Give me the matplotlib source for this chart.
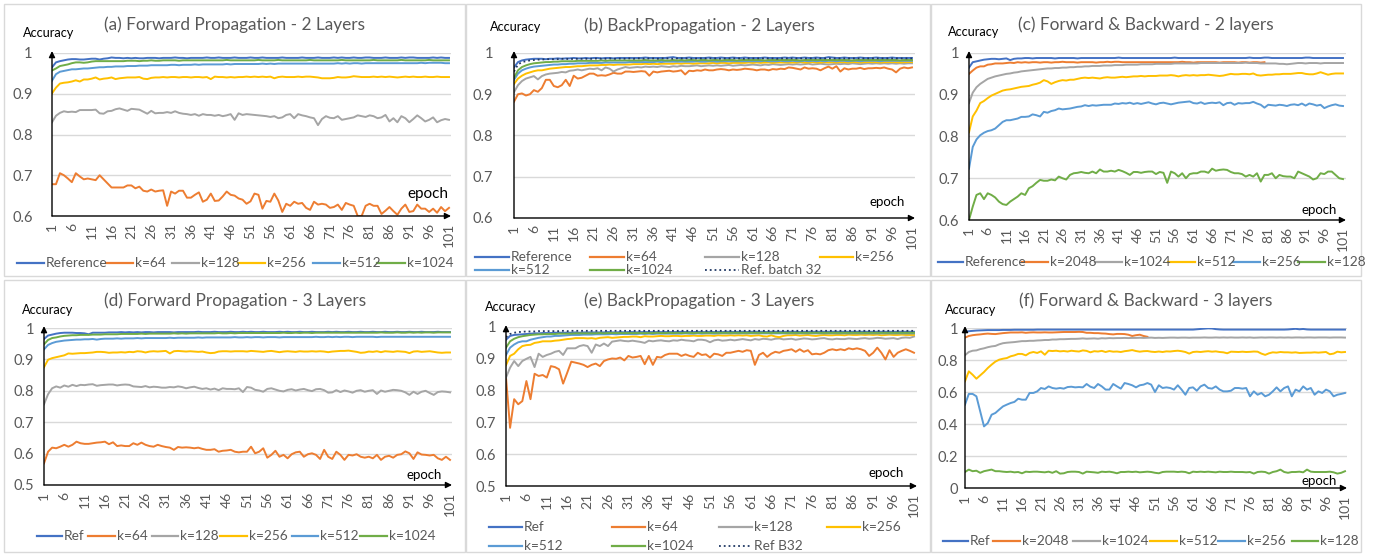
import matplotlib
matplotlib.use("Agg")
import matplotlib.pyplot as plt
import numpy as np
from matplotlib.lines import Line2D
from matplotlib.patches import Rectangle

plt.rcParams["font.family"] = ["Lato", "DejaVu Sans"]

# ---------------------------------------------------------------- data
XTICKS = list(range(1, 102, 5))

# (a) Forward Propagation - 2 Layers
A_REF = [0.965,0.977,0.980,0.982,0.984,0.985,0.985,0.984,0.984,0.985,
         0.986,0.986,0.984,0.986,0.987,0.989,0.988,0.988,0.987,0.988,
         0.987,0.988,0.987,0.987,0.988,0.988,0.988,0.987,0.988,0.988,
         0.988,0.989,0.988,0.988,0.987,0.988,0.988,0.988,0.988,0.989,
         0.988,0.988,0.989,0.988,0.988,0.988,0.989,0.988,0.988,0.988,
         0.989,0.988,0.988,0.989,0.988,0.988,0.988,0.988,0.989,0.988,
         0.988,0.988,0.988,0.989,0.988,0.988,0.988,0.989,0.988,0.988,
         0.988,0.989,0.988,0.989,0.988,0.988,0.989,0.988,0.988,0.989,
         0.989,0.988,0.988,0.988,0.989,0.988,0.988,0.988,0.989,0.988,
         0.989,0.989,0.988,0.988,0.988,0.988,0.989,0.988,0.989,0.988,
         0.988]
A_K64 = [0.678,0.678,0.705,0.700,0.692,0.683,0.705,0.697,0.690,0.692,
         0.690,0.688,0.700,0.690,0.680,0.670,0.670,0.670,0.670,0.675,
         0.675,0.668,0.672,0.662,0.660,0.665,0.660,0.662,0.663,0.625,
         0.660,0.655,0.662,0.662,0.645,0.645,0.652,0.658,0.635,0.640,
         0.655,0.637,0.638,0.648,0.660,0.652,0.650,0.643,0.640,0.630,
         0.636,0.655,0.652,0.618,0.637,0.635,0.655,0.638,0.610,0.630,
         0.625,0.635,0.630,0.632,0.620,0.615,0.635,0.628,0.630,0.628,
         0.620,0.622,0.628,0.615,0.632,0.628,0.625,0.600,0.600,0.625,
         0.630,0.625,0.625,0.605,0.613,0.622,0.612,0.603,0.618,0.628,
         0.610,0.612,0.628,0.618,0.618,0.610,0.618,0.608,0.622,0.612,
         0.620]
A_K128 = [0.830,0.846,0.853,0.857,0.855,0.856,0.855,0.860,0.860,0.860,
          0.860,0.861,0.852,0.851,0.857,0.858,0.862,0.864,0.861,0.858,
          0.863,0.862,0.861,0.856,0.851,0.858,0.852,0.853,0.853,0.855,
          0.853,0.857,0.853,0.851,0.850,0.848,0.850,0.846,0.850,0.848,
          0.848,0.846,0.848,0.845,0.847,0.850,0.836,0.852,0.848,0.850,
          0.849,0.848,0.847,0.846,0.845,0.843,0.845,0.840,0.842,0.848,
          0.850,0.840,0.850,0.847,0.845,0.842,0.840,0.823,0.838,0.845,
          0.841,0.840,0.845,0.836,0.838,0.840,0.842,0.847,0.845,0.843,
          0.847,0.845,0.840,0.842,0.848,0.832,0.840,0.830,0.845,0.840,
          0.830,0.838,0.847,0.840,0.832,0.836,0.842,0.830,0.835,0.838,
          0.836]
A_K256 = [0.901,0.915,0.925,0.927,0.928,0.930,0.933,0.930,0.935,0.935,
          0.937,0.940,0.935,0.937,0.938,0.940,0.936,0.938,0.939,0.940,
          0.940,0.940,0.941,0.937,0.936,0.939,0.940,0.940,0.941,0.940,
          0.941,0.941,0.940,0.941,0.941,0.940,0.941,0.941,0.940,0.941,
          0.936,0.942,0.941,0.941,0.940,0.941,0.940,0.941,0.941,0.942,
          0.941,0.942,0.941,0.942,0.941,0.942,0.938,0.941,0.942,0.941,
          0.941,0.941,0.942,0.941,0.942,0.942,0.941,0.940,0.938,0.938,
          0.938,0.939,0.941,0.940,0.940,0.941,0.943,0.942,0.941,0.941,
          0.941,0.942,0.941,0.942,0.941,0.942,0.941,0.940,0.941,0.942,
          0.941,0.942,0.941,0.941,0.942,0.941,0.941,0.942,0.941,0.941,
          0.941]
A_K512 = [0.932,0.948,0.954,0.956,0.958,0.960,0.960,0.961,0.962,0.962,
          0.963,0.964,0.965,0.965,0.966,0.966,0.967,0.967,0.967,0.968,
          0.968,0.968,0.969,0.969,0.969,0.970,0.970,0.970,0.970,0.970,
          0.971,0.971,0.970,0.971,0.971,0.971,0.972,0.971,0.972,0.972,
          0.972,0.972,0.972,0.972,0.973,0.972,0.973,0.973,0.973,0.973,
          0.973,0.973,0.973,0.974,0.973,0.974,0.973,0.974,0.974,0.974,
          0.974,0.974,0.974,0.974,0.974,0.974,0.974,0.974,0.974,0.974,
          0.974,0.974,0.975,0.974,0.975,0.974,0.975,0.975,0.974,0.975,
          0.975,0.975,0.975,0.975,0.975,0.975,0.975,0.975,0.975,0.975,
          0.975,0.975,0.975,0.976,0.975,0.976,0.976,0.976,0.976,0.975,
          0.975]
A_K1024 = [0.957,0.962,0.968,0.970,0.972,0.975,0.977,0.977,0.976,0.977,
           0.979,0.980,0.980,0.980,0.980,0.980,0.980,0.980,0.980,0.981,
           0.981,0.981,0.980,0.981,0.981,0.982,0.981,0.981,0.982,0.982,
           0.982,0.982,0.981,0.982,0.982,0.982,0.982,0.982,0.982,0.982,
           0.982,0.982,0.982,0.982,0.983,0.982,0.982,0.982,0.982,0.982,
           0.982,0.982,0.983,0.982,0.982,0.982,0.982,0.983,0.982,0.982,
           0.982,0.982,0.982,0.982,0.982,0.983,0.982,0.982,0.982,0.982,
           0.982,0.982,0.982,0.983,0.982,0.982,0.982,0.982,0.982,0.982,
           0.982,0.983,0.982,0.982,0.982,0.982,0.982,0.982,0.983,0.982,
           0.982,0.982,0.982,0.982,0.982,0.983,0.982,0.982,0.982,0.982,
           0.982]

# (b) BackPropagation - 2 Layers
B_REF = [0.965,0.978,0.982,0.984,0.985,0.986,0.986,0.986,0.985,0.986,
         0.986,0.987,0.986,0.987,0.987,0.988,0.987,0.987,0.988,0.987,
         0.988,0.988,0.987,0.988,0.988,0.987,0.988,0.988,0.988,0.988,
         0.988,0.988,0.988,0.989,0.988,0.988,0.988,0.988,0.988,0.989,
         0.990,0.988,0.988,0.988,0.989,0.988,0.988,0.988,0.988,0.989,
         0.988,0.988,0.989,0.988,0.988,0.989,0.988,0.988,0.989,0.988,
         0.988,0.988,0.988,0.989,0.988,0.988,0.988,0.988,0.989,0.988,
         0.989,0.988,0.988,0.989,0.988,0.988,0.989,0.988,0.988,0.990,
         0.989,0.988,0.988,0.989,0.988,0.988,0.988,0.989,0.988,0.988,
         0.988,0.989,0.988,0.988,0.988,0.989,0.988,0.988,0.988,0.988,
         0.988]
B_K64 = [0.882,0.900,0.902,0.897,0.900,0.910,0.906,0.915,0.935,0.935,
         0.920,0.917,0.922,0.935,0.920,0.945,0.938,0.940,0.945,0.950,
         0.950,0.945,0.946,0.945,0.948,0.952,0.950,0.950,0.955,0.955,
         0.954,0.955,0.956,0.955,0.945,0.955,0.953,0.955,0.956,0.957,
         0.955,0.956,0.958,0.948,0.957,0.956,0.958,0.957,0.960,0.958,
         0.958,0.960,0.961,0.960,0.958,0.960,0.959,0.960,0.962,0.961,
         0.960,0.958,0.960,0.960,0.958,0.961,0.960,0.962,0.961,0.965,
         0.964,0.962,0.960,0.965,0.962,0.963,0.962,0.958,0.963,0.967,
         0.962,0.968,0.955,0.963,0.960,0.962,0.962,0.964,0.961,0.963,
         0.963,0.964,0.963,0.965,0.962,0.960,0.953,0.962,0.965,0.963,
         0.965]
B_K128 = [0.905,0.922,0.932,0.938,0.941,0.944,0.936,0.944,0.948,0.950,
          0.951,0.952,0.954,0.953,0.957,0.958,0.960,0.958,0.960,0.962,
          0.961,0.963,0.958,0.965,0.962,0.955,0.960,0.963,0.966,0.964,
          0.965,0.966,0.965,0.967,0.966,0.967,0.966,0.968,0.967,0.966,
          0.968,0.967,0.969,0.968,0.968,0.969,0.970,0.968,0.969,0.970,
          0.969,0.970,0.969,0.970,0.971,0.969,0.970,0.971,0.970,0.971,
          0.972,0.971,0.970,0.972,0.971,0.973,0.972,0.971,0.972,0.973,
          0.972,0.973,0.972,0.973,0.974,0.972,0.973,0.974,0.973,0.972,
          0.973,0.974,0.973,0.974,0.973,0.975,0.974,0.973,0.974,0.975,
          0.974,0.975,0.974,0.975,0.974,0.975,0.974,0.975,0.974,0.975,
          0.975]
B_K256 = [0.925,0.938,0.945,0.950,0.953,0.956,0.958,0.958,0.960,0.962,
          0.963,0.964,0.965,0.966,0.966,0.967,0.968,0.968,0.969,0.970,
          0.970,0.970,0.971,0.971,0.972,0.971,0.972,0.972,0.972,0.972,
          0.973,0.973,0.973,0.974,0.973,0.974,0.973,0.974,0.974,0.974,
          0.974,0.975,0.974,0.975,0.975,0.974,0.975,0.975,0.975,0.975,
          0.976,0.975,0.976,0.976,0.975,0.976,0.976,0.976,0.976,0.977,
          0.976,0.977,0.976,0.977,0.977,0.976,0.977,0.977,0.977,0.977,
          0.977,0.977,0.978,0.977,0.977,0.978,0.977,0.977,0.978,0.977,
          0.978,0.977,0.978,0.978,0.977,0.978,0.978,0.977,0.978,0.978,
          0.978,0.978,0.977,0.978,0.978,0.978,0.978,0.977,0.978,0.978,
          0.978]
B_K512 = [0.935,0.950,0.958,0.962,0.965,0.967,0.968,0.969,0.970,0.971,
          0.972,0.972,0.973,0.973,0.974,0.974,0.975,0.975,0.975,0.976,
          0.976,0.976,0.976,0.977,0.977,0.977,0.977,0.977,0.977,0.978,
          0.978,0.978,0.978,0.978,0.978,0.978,0.979,0.978,0.979,0.979,
          0.979,0.979,0.979,0.979,0.979,0.979,0.980,0.979,0.979,0.980,
          0.980,0.979,0.980,0.980,0.980,0.980,0.980,0.980,0.980,0.980,
          0.980,0.980,0.980,0.981,0.980,0.980,0.980,0.981,0.980,0.980,
          0.981,0.980,0.980,0.981,0.980,0.981,0.980,0.981,0.980,0.981,
          0.981,0.980,0.981,0.981,0.980,0.981,0.981,0.980,0.981,0.981,
          0.981,0.981,0.980,0.981,0.981,0.981,0.981,0.981,0.981,0.981,
          0.981]
B_K1024 = [0.940,0.958,0.966,0.970,0.973,0.975,0.976,0.977,0.978,0.978,
           0.979,0.979,0.980,0.980,0.980,0.980,0.981,0.981,0.981,0.981,
           0.981,0.981,0.982,0.981,0.982,0.982,0.982,0.982,0.982,0.982,
           0.982,0.982,0.982,0.983,0.982,0.982,0.982,0.983,0.982,0.982,
           0.983,0.982,0.983,0.982,0.983,0.983,0.982,0.983,0.983,0.982,
           0.983,0.983,0.982,0.983,0.983,0.983,0.982,0.983,0.983,0.983,
           0.983,0.983,0.983,0.982,0.983,0.983,0.983,0.983,0.983,0.983,
           0.983,0.983,0.982,0.983,0.983,0.983,0.983,0.983,0.983,0.983,
           0.983,0.983,0.983,0.983,0.983,0.982,0.983,0.983,0.983,0.983,
           0.983,0.983,0.983,0.983,0.983,0.983,0.983,0.982,0.983,0.983,
           0.983]
B_B32 = [0.955,0.972,0.978,0.980,0.982,0.983,0.984,0.984,0.985,0.985,
         0.985,0.985,0.986,0.986,0.985,0.986,0.986,0.986,0.986,0.986,
         0.986,0.987,0.986,0.986,0.987,0.986,0.986,0.987,0.986,0.987,
         0.986,0.987,0.987,0.986,0.987,0.987,0.986,0.987,0.987,0.987,
         0.986,0.987,0.987,0.987,0.987,0.986,0.987,0.987,0.987,0.987,
         0.987,0.987,0.986,0.987,0.987,0.987,0.987,0.987,0.986,0.987,
         0.987,0.987,0.987,0.987,0.987,0.987,0.986,0.987,0.987,0.987,
         0.987,0.987,0.987,0.987,0.987,0.987,0.987,0.987,0.987,0.987,
         0.987,0.987,0.987,0.987,0.987,0.987,0.987,0.987,0.987,0.987,
         0.987,0.987,0.987,0.987,0.987,0.987,0.987,0.987,0.987,0.987,
         0.987]

# (c) Forward & Backward - 2 layers
C_REF = [0.965,0.978,0.980,0.982,0.984,0.985,0.986,0.986,0.985,0.986,
         0.987,0.983,0.986,0.987,0.987,0.988,0.988,0.987,0.988,0.988,
         0.988,0.988,0.988,0.987,0.988,0.988,0.988,0.988,0.988,0.987,
         0.988,0.988,0.988,0.988,0.988,0.988,0.988,0.988,0.988,0.988,
         0.989,0.988,0.988,0.988,0.988,0.988,0.988,0.988,0.988,0.988,
         0.988,0.988,0.988,0.988,0.988,0.989,0.988,0.988,0.988,0.988,
         0.988,0.988,0.988,0.988,0.988,0.988,0.988,0.988,0.988,0.988,
         0.988,0.988,0.988,0.988,0.988,0.989,0.988,0.988,0.988,0.989,
         0.989,0.988,0.988,0.988,0.988,0.988,0.988,0.988,0.988,0.988,
         0.989,0.989,0.988,0.988,0.988,0.988,0.988,0.988,0.988,0.988,
         0.988]
C_K2048 = [0.950,0.958,0.965,0.968,0.968,0.972,0.973,0.975,0.975,0.975,
           0.976,0.977,0.976,0.978,0.977,0.978,0.977,0.978,0.978,0.977,
           0.978,0.978,0.977,0.978,0.978,0.979,0.978,0.978,0.978,0.977,
           0.978,0.978,0.978,0.978,0.977,0.978,0.978,0.979,0.978,0.979,
           0.979,0.978,0.978,0.978,0.978,0.978,0.978,0.978,0.978,0.978,
           0.978,0.978,0.978,0.978,0.978,0.978,0.978,0.979,0.978,0.978,
           0.977,0.978,0.978,0.978,0.978,0.978,0.978,0.977,0.978,0.978,
           0.978,0.978,0.977,0.978,0.978,0.977,0.978,0.978,0.977,0.978]
C_K1024 = [0.880,0.905,0.918,0.926,0.932,0.938,0.941,0.944,0.946,0.948,
           0.950,0.951,0.953,0.954,0.956,0.957,0.958,0.959,0.960,0.961,
           0.962,0.963,0.963,0.964,0.964,0.965,0.965,0.966,0.966,0.967,
           0.967,0.968,0.968,0.969,0.969,0.969,0.970,0.970,0.970,0.971,
           0.971,0.971,0.972,0.972,0.972,0.972,0.973,0.973,0.973,0.973,
           0.974,0.974,0.974,0.974,0.974,0.975,0.975,0.975,0.975,0.975,
           0.975,0.975,0.976,0.976,0.976,0.976,0.976,0.976,0.976,0.976,
           0.976,0.976,0.976,0.976,0.977,0.976,0.976,0.976,0.975,0.975,
           0.975,0.975,0.975,0.974,0.974,0.973,0.974,0.975,0.976,0.976,
           0.975,0.976,0.976,0.976,0.975,0.976,0.976,0.976,0.976,0.976,
           0.976]
C_K512 = [0.810,0.848,0.862,0.880,0.885,0.892,0.898,0.902,0.906,0.910,
          0.912,0.913,0.915,0.917,0.919,0.920,0.921,0.924,0.926,0.929,
          0.935,0.932,0.926,0.930,0.933,0.935,0.934,0.936,0.936,0.938,
          0.940,0.941,0.940,0.941,0.940,0.939,0.941,0.942,0.941,0.941,
          0.942,0.943,0.942,0.943,0.944,0.944,0.945,0.944,0.945,0.945,
          0.945,0.946,0.946,0.946,0.947,0.946,0.944,0.946,0.947,0.946,
          0.947,0.946,0.947,0.947,0.948,0.947,0.946,0.945,0.946,0.948,
          0.950,0.949,0.949,0.950,0.950,0.949,0.951,0.947,0.946,0.947,
          0.948,0.948,0.949,0.949,0.950,0.950,0.950,0.951,0.952,0.952,
          0.950,0.949,0.949,0.951,0.954,0.951,0.948,0.950,0.951,0.951,
          0.951]
C_K256 = [0.723,0.775,0.793,0.803,0.809,0.813,0.815,0.819,0.827,0.835,
          0.839,0.839,0.841,0.843,0.847,0.847,0.848,0.853,0.851,0.848,
          0.859,0.857,0.861,0.863,0.867,0.865,0.866,0.867,0.869,0.871,
          0.872,0.875,0.873,0.875,0.874,0.875,0.876,0.876,0.876,0.879,
          0.878,0.880,0.879,0.881,0.878,0.880,0.878,0.880,0.882,0.879,
          0.877,0.880,0.881,0.879,0.877,0.879,0.881,0.882,0.883,0.884,
          0.880,0.879,0.882,0.878,0.880,0.881,0.880,0.882,0.875,0.880,
          0.881,0.876,0.880,0.879,0.880,0.880,0.883,0.879,0.876,0.869,
          0.876,0.875,0.874,0.876,0.875,0.873,0.876,0.877,0.875,0.879,
          0.874,0.879,0.877,0.874,0.876,0.868,0.872,0.875,0.877,0.874,
          0.873]
C_K128 = [0.600,0.632,0.660,0.664,0.650,0.664,0.660,0.654,0.644,0.638,
          0.636,0.644,0.650,0.656,0.664,0.660,0.676,0.681,0.689,0.696,
          0.694,0.694,0.697,0.695,0.704,0.700,0.697,0.708,0.712,0.713,
          0.715,0.713,0.712,0.716,0.712,0.721,0.716,0.716,0.718,0.716,
          0.720,0.717,0.713,0.708,0.715,0.715,0.713,0.715,0.716,0.716,
          0.710,0.715,0.713,0.689,0.716,0.712,0.704,0.712,0.700,0.710,
          0.712,0.712,0.716,0.716,0.713,0.723,0.718,0.720,0.721,0.720,
          0.715,0.712,0.712,0.710,0.704,0.708,0.704,0.712,0.692,0.708,
          0.708,0.712,0.700,0.708,0.705,0.704,0.704,0.700,0.716,0.712,
          0.708,0.704,0.697,0.700,0.712,0.710,0.716,0.716,0.708,0.700,
          0.698]

# (d) Forward Propagation - 3 Layers
D_REF = [0.965,0.976,0.979,0.982,0.984,0.985,0.985,0.985,0.984,0.984,
         0.983,0.980,0.985,0.985,0.985,0.985,0.986,0.986,0.986,0.987,
         0.986,0.987,0.986,0.987,0.986,0.987,0.987,0.986,0.987,0.987,
         0.987,0.987,0.986,0.987,0.987,0.987,0.987,0.987,0.988,0.987,
         0.987,0.987,0.988,0.987,0.987,0.987,0.988,0.987,0.987,0.988,
         0.987,0.988,0.987,0.987,0.988,0.987,0.987,0.987,0.988,0.987,
         0.988,0.987,0.987,0.988,0.987,0.987,0.988,0.987,0.987,0.987,
         0.988,0.987,0.988,0.987,0.987,0.988,0.987,0.987,0.988,0.987,
         0.987,0.988,0.987,0.987,0.988,0.987,0.987,0.988,0.987,0.987,
         0.988,0.987,0.987,0.988,0.987,0.987,0.987,0.988,0.987,0.987,
         0.987]
D_K64 = [0.569,0.606,0.619,0.617,0.622,0.628,0.622,0.628,0.638,0.633,
         0.631,0.631,0.633,0.635,0.636,0.638,0.630,0.636,0.624,0.626,
         0.624,0.624,0.633,0.628,0.635,0.628,0.624,0.622,0.628,0.624,
         0.621,0.619,0.612,0.621,0.619,0.620,0.619,0.617,0.619,0.615,
         0.612,0.612,0.614,0.606,0.609,0.610,0.612,0.606,0.604,0.606,
         0.606,0.622,0.601,0.606,0.617,0.587,0.596,0.609,0.590,0.596,
         0.585,0.598,0.604,0.606,0.590,0.598,0.601,0.596,0.583,0.612,
         0.590,0.583,0.606,0.596,0.580,0.596,0.594,0.598,0.590,0.587,
         0.590,0.585,0.596,0.580,0.590,0.593,0.587,0.596,0.598,0.607,
         0.601,0.583,0.604,0.597,0.596,0.594,0.596,0.585,0.580,0.590,
         0.580]
D_K128 = [0.757,0.789,0.808,0.814,0.810,0.817,0.813,0.819,0.815,0.819,
          0.818,0.820,0.821,0.816,0.818,0.819,0.820,0.820,0.817,0.819,
          0.820,0.819,0.814,0.813,0.812,0.815,0.811,0.813,0.812,0.810,
          0.810,0.812,0.811,0.814,0.812,0.808,0.811,0.813,0.809,0.806,
          0.808,0.804,0.807,0.802,0.808,0.806,0.806,0.805,0.808,0.796,
          0.812,0.810,0.803,0.801,0.797,0.806,0.808,0.804,0.800,0.798,
          0.803,0.805,0.801,0.804,0.806,0.802,0.799,0.805,0.806,0.802,
          0.794,0.795,0.802,0.796,0.801,0.798,0.794,0.800,0.802,0.797,
          0.800,0.802,0.790,0.801,0.797,0.800,0.803,0.802,0.800,0.795,
          0.787,0.797,0.790,0.797,0.800,0.793,0.787,0.796,0.798,0.797,
          0.795]
D_K256 = [0.875,0.899,0.904,0.907,0.910,0.913,0.919,0.918,0.919,0.920,
          0.920,0.921,0.922,0.924,0.924,0.923,0.921,0.922,0.922,0.923,
          0.922,0.924,0.923,0.926,0.925,0.922,0.925,0.926,0.925,0.926,
          0.927,0.919,0.926,0.927,0.926,0.925,0.926,0.925,0.924,0.925,
          0.922,0.920,0.921,0.925,0.926,0.926,0.925,0.926,0.926,0.926,
          0.925,0.927,0.926,0.925,0.924,0.926,0.927,0.925,0.923,0.925,
          0.926,0.925,0.924,0.926,0.925,0.925,0.926,0.925,0.926,0.925,
          0.923,0.925,0.926,0.927,0.927,0.928,0.926,0.924,0.921,0.922,
          0.925,0.924,0.926,0.923,0.926,0.925,0.924,0.926,0.925,0.924,
          0.920,0.925,0.926,0.924,0.925,0.926,0.924,0.922,0.921,0.922,
          0.922]
D_K512 = [0.932,0.946,0.952,0.956,0.958,0.960,0.961,0.962,0.963,0.963,
          0.964,0.964,0.965,0.963,0.965,0.966,0.966,0.966,0.967,0.966,
          0.967,0.967,0.967,0.968,0.967,0.968,0.968,0.968,0.968,0.968,
          0.968,0.969,0.968,0.969,0.969,0.969,0.969,0.969,0.970,0.969,
          0.970,0.970,0.970,0.970,0.970,0.970,0.970,0.971,0.970,0.970,
          0.971,0.970,0.971,0.971,0.970,0.971,0.971,0.971,0.970,0.971,
          0.971,0.971,0.971,0.971,0.971,0.971,0.971,0.972,0.971,0.971,
          0.972,0.971,0.972,0.971,0.972,0.972,0.971,0.972,0.972,0.972,
          0.972,0.972,0.971,0.972,0.972,0.972,0.972,0.972,0.972,0.972,
          0.972,0.972,0.972,0.972,0.972,0.972,0.972,0.972,0.972,0.972,
          0.972]
D_K1024 = [0.948,0.962,0.968,0.970,0.973,0.975,0.976,0.977,0.977,0.978,
           0.978,0.978,0.979,0.979,0.979,0.980,0.980,0.980,0.980,0.981,
           0.981,0.981,0.981,0.981,0.982,0.981,0.982,0.982,0.982,0.982,
           0.982,0.982,0.983,0.982,0.983,0.982,0.983,0.983,0.983,0.983,
           0.983,0.983,0.983,0.984,0.983,0.983,0.984,0.983,0.984,0.984,
           0.984,0.984,0.984,0.984,0.984,0.984,0.984,0.984,0.984,0.985,
           0.984,0.984,0.985,0.984,0.985,0.985,0.984,0.985,0.985,0.985,
           0.985,0.985,0.985,0.985,0.985,0.985,0.985,0.985,0.985,0.985,
           0.985,0.985,0.985,0.986,0.985,0.985,0.985,0.986,0.985,0.985,
           0.986,0.985,0.986,0.985,0.986,0.986,0.985,0.986,0.986,0.986,
           0.986]

# (e) BackPropagation - 3 Layers
E_REF = [0.960,0.972,0.975,0.976,0.977,0.978,0.979,0.980,0.980,0.981,
         0.981,0.981,0.982,0.982,0.982,0.982,0.982,0.983,0.982,0.983,
         0.983,0.983,0.983,0.983,0.983,0.984,0.983,0.983,0.984,0.983,
         0.984,0.984,0.983,0.984,0.984,0.984,0.984,0.984,0.984,0.984,
         0.984,0.984,0.984,0.985,0.984,0.984,0.984,0.985,0.984,0.984,
         0.985,0.984,0.985,0.984,0.985,0.985,0.984,0.985,0.985,0.984,
         0.985,0.985,0.985,0.985,0.984,0.985,0.985,0.985,0.985,0.985,
         0.985,0.985,0.984,0.985,0.985,0.985,0.985,0.985,0.985,0.985,
         0.985,0.985,0.985,0.985,0.985,0.985,0.985,0.985,0.985,0.985,
         0.985,0.985,0.985,0.985,0.985,0.985,0.985,0.985,0.985,0.985,
         0.985]
E_K64 = [0.841,0.683,0.773,0.757,0.767,0.830,0.773,0.853,0.846,0.849,
         0.841,0.877,0.874,0.867,0.822,0.856,0.891,0.888,0.885,0.881,
         0.874,0.881,0.885,0.877,0.893,0.898,0.901,0.900,0.904,0.895,
         0.909,0.904,0.906,0.909,0.883,0.909,0.881,0.906,0.904,0.912,
         0.916,0.916,0.916,0.909,0.914,0.909,0.906,0.919,0.912,0.914,
         0.904,0.916,0.914,0.909,0.919,0.919,0.922,0.925,0.922,0.927,
         0.925,0.881,0.912,0.919,0.906,0.916,0.922,0.919,0.925,0.927,
         0.930,0.922,0.930,0.922,0.927,0.914,0.916,0.914,0.919,0.927,
         0.930,0.927,0.930,0.927,0.933,0.930,0.933,0.930,0.925,0.909,
         0.919,0.935,0.919,0.898,0.927,0.906,0.919,0.925,0.930,0.925,
         0.919]
E_K128 = [0.841,0.872,0.893,0.877,0.893,0.900,0.906,0.874,0.916,0.906,
          0.912,0.916,0.922,0.925,0.912,0.933,0.933,0.933,0.940,0.943,
          0.940,0.919,0.945,0.940,0.948,0.940,0.954,0.956,0.958,0.956,
          0.955,0.957,0.955,0.953,0.950,0.957,0.955,0.957,0.958,0.956,
          0.955,0.958,0.957,0.960,0.958,0.957,0.955,0.960,0.960,0.958,
          0.952,0.958,0.960,0.957,0.958,0.960,0.958,0.960,0.962,0.960,
          0.958,0.962,0.960,0.963,0.962,0.960,0.963,0.964,0.961,0.962,
          0.963,0.960,0.962,0.964,0.963,0.961,0.962,0.964,0.965,0.962,
          0.961,0.963,0.962,0.962,0.964,0.963,0.962,0.964,0.965,0.963,
          0.964,0.966,0.965,0.963,0.964,0.965,0.962,0.966,0.967,0.966,
          0.970]
E_K256 = [0.880,0.909,0.916,0.930,0.940,0.943,0.944,0.950,0.952,0.955,
          0.955,0.955,0.957,0.958,0.960,0.962,0.963,0.965,0.965,0.965,
          0.964,0.965,0.963,0.966,0.967,0.968,0.966,0.967,0.968,0.969,
          0.969,0.970,0.970,0.968,0.971,0.970,0.970,0.971,0.972,0.971,
          0.971,0.972,0.972,0.971,0.972,0.972,0.973,0.972,0.972,0.973,
          0.973,0.972,0.974,0.973,0.973,0.974,0.973,0.974,0.973,0.974,
          0.972,0.973,0.974,0.971,0.970,0.974,0.970,0.968,0.972,0.974,
          0.974,0.975,0.973,0.974,0.975,0.973,0.972,0.974,0.975,0.974,
          0.974,0.975,0.975,0.974,0.976,0.975,0.975,0.976,0.975,0.976,
          0.975,0.976,0.974,0.975,0.976,0.975,0.975,0.976,0.975,0.975,
          0.975]
E_K512 = [0.912,0.935,0.945,0.952,0.955,0.955,0.960,0.963,0.966,0.968,
          0.970,0.970,0.972,0.972,0.973,0.974,0.975,0.975,0.975,0.976,
          0.976,0.976,0.977,0.977,0.977,0.977,0.978,0.977,0.978,0.978,
          0.978,0.978,0.978,0.979,0.978,0.979,0.978,0.979,0.979,0.979,
          0.979,0.979,0.979,0.979,0.980,0.979,0.979,0.980,0.979,0.980,
          0.980,0.979,0.980,0.980,0.980,0.980,0.980,0.980,0.980,0.980,
          0.980,0.980,0.980,0.980,0.980,0.980,0.980,0.980,0.980,0.980,
          0.980,0.980,0.980,0.980,0.980,0.980,0.980,0.980,0.980,0.980,
          0.980,0.980,0.980,0.980,0.980,0.980,0.980,0.980,0.980,0.980,
          0.980,0.980,0.980,0.980,0.980,0.980,0.980,0.980,0.980,0.980,
          0.980]
E_K1024 = [0.935,0.955,0.963,0.968,0.971,0.973,0.975,0.976,0.977,0.977,
           0.978,0.978,0.978,0.979,0.979,0.979,0.979,0.980,0.980,0.980,
           0.980,0.980,0.980,0.981,0.980,0.981,0.981,0.981,0.981,0.981,
           0.981,0.981,0.981,0.981,0.981,0.981,0.981,0.982,0.981,0.981,
           0.982,0.981,0.982,0.981,0.982,0.982,0.981,0.982,0.982,0.982,
           0.982,0.982,0.982,0.982,0.982,0.982,0.982,0.982,0.982,0.982,
           0.982,0.982,0.982,0.982,0.982,0.982,0.982,0.982,0.982,0.982,
           0.982,0.982,0.982,0.982,0.982,0.982,0.982,0.982,0.982,0.982,
           0.982,0.982,0.982,0.982,0.982,0.982,0.982,0.982,0.982,0.982,
           0.982,0.982,0.982,0.982,0.982,0.982,0.982,0.982,0.982,0.982,
           0.982]
E_B32 = [0.968,0.978,0.982,0.984,0.985,0.986,0.986,0.986,0.987,0.987,
         0.987,0.987,0.987,0.987,0.988,0.987,0.988,0.988,0.988,0.988,
         0.988,0.988,0.988,0.988,0.988,0.988,0.988,0.988,0.988,0.988,
         0.988,0.988,0.988,0.988,0.988,0.988,0.988,0.988,0.988,0.988,
         0.988,0.988,0.988,0.988,0.988,0.988,0.988,0.988,0.988,0.988,
         0.988,0.988,0.988,0.988,0.988,0.988,0.988,0.988,0.988,0.988,
         0.988,0.988,0.988,0.988,0.988,0.988,0.988,0.988,0.988,0.988,
         0.988,0.988,0.988,0.988,0.988,0.988,0.988,0.988,0.988,0.988,
         0.988,0.988,0.988,0.988,0.988,0.988,0.988,0.988,0.988,0.988,
         0.988,0.988,0.988,0.988,0.988,0.988,0.988,0.988,0.988,0.988,
         0.988]

# (f) Forward & Backward - 3 layers
F_REF = [0.975,0.980,0.982,0.984,0.985,0.986,0.987,0.987,0.987,0.987,
         0.988,0.988,0.988,0.989,0.989,0.989,0.989,0.989,0.989,0.990,
         0.990,0.990,0.990,0.990,0.990,0.990,0.990,0.990,0.990,0.990,
         0.990,0.990,0.990,0.990,0.990,0.990,0.990,0.990,0.990,0.990,
         0.990,0.990,0.990,0.990,0.990,0.990,0.990,0.990,0.990,0.990,
         0.990,0.990,0.990,0.990,0.990,0.990,0.990,0.990,0.990,0.990,
         0.990,0.992,0.994,0.996,0.998,0.997,0.993,0.991,0.990,0.990,
         0.990,0.990,0.990,0.990,0.990,0.990,0.990,0.990,0.990,0.990,
         0.990,0.990,0.990,0.990,0.990,0.991,0.993,0.995,0.992,0.994,
         0.991,0.990,0.990,0.990,0.990,0.990,0.990,0.990,0.990,0.990,
         0.990]
F_K2048 = [0.940,0.950,0.955,0.958,0.960,0.963,0.965,0.963,0.962,0.965,
           0.968,0.970,0.972,0.972,0.972,0.973,0.970,0.972,0.973,0.972,
           0.972,0.973,0.972,0.972,0.973,0.974,0.975,0.975,0.975,0.975,
           0.976,0.975,0.970,0.970,0.968,0.968,0.966,0.965,0.962,0.960,
           0.963,0.963,0.962,0.958,0.950,0.955,0.958,0.950,0.945]
F_K1024 = [0.830,0.850,0.858,0.860,0.868,0.873,0.880,0.885,0.888,0.898,
           0.905,0.908,0.910,0.912,0.915,0.918,0.918,0.920,0.920,0.922,
           0.923,0.925,0.925,0.928,0.928,0.930,0.930,0.931,0.932,0.932,
           0.933,0.935,0.933,0.934,0.935,0.933,0.936,0.935,0.937,0.936,
           0.937,0.937,0.938,0.937,0.938,0.938,0.939,0.938,0.939,0.940,
           0.938,0.939,0.938,0.939,0.940,0.940,0.939,0.940,0.940,0.939,
           0.940,0.940,0.940,0.941,0.940,0.940,0.941,0.940,0.941,0.940,
           0.941,0.940,0.940,0.941,0.940,0.941,0.939,0.940,0.941,0.940,
           0.941,0.941,0.940,0.941,0.940,0.941,0.940,0.941,0.941,0.940,
           0.941,0.941,0.940,0.941,0.941,0.941,0.940,0.941,0.941,0.941,
           0.940]
F_K512 = [0.667,0.729,0.708,0.683,0.704,0.725,0.750,0.771,0.790,0.802,
          0.808,0.812,0.823,0.829,0.838,0.838,0.829,0.844,0.850,0.844,
          0.854,0.833,0.858,0.856,0.858,0.854,0.856,0.853,0.858,0.855,
          0.853,0.860,0.857,0.848,0.855,0.853,0.857,0.850,0.856,0.852,
          0.853,0.850,0.855,0.858,0.862,0.856,0.852,0.855,0.856,0.852,
          0.850,0.853,0.850,0.854,0.853,0.856,0.858,0.855,0.850,0.840,
          0.850,0.852,0.850,0.853,0.855,0.852,0.854,0.850,0.848,0.842,
          0.852,0.851,0.850,0.852,0.850,0.851,0.853,0.852,0.840,0.832,
          0.842,0.848,0.846,0.850,0.848,0.848,0.846,0.848,0.844,0.845,
          0.846,0.846,0.848,0.846,0.848,0.850,0.836,0.840,0.852,0.848,
          0.850]
F_K256 = [0.521,0.588,0.588,0.573,0.479,0.385,0.406,0.458,0.469,0.490,
          0.510,0.521,0.531,0.538,0.558,0.552,0.552,0.594,0.594,0.604,
          0.625,0.619,0.635,0.625,0.621,0.625,0.621,0.631,0.633,0.629,
          0.631,0.629,0.650,0.633,0.625,0.650,0.635,0.615,0.615,0.650,
          0.635,0.621,0.656,0.650,0.642,0.629,0.642,0.646,0.656,0.646,
          0.600,0.642,0.625,0.629,0.625,0.615,0.642,0.615,0.583,0.625,
          0.629,0.608,0.635,0.646,0.625,0.621,0.635,0.615,0.604,0.604,
          0.608,0.625,0.625,0.621,0.625,0.573,0.604,0.583,0.594,0.573,
          0.583,0.604,0.629,0.604,0.625,0.635,0.573,0.615,0.604,0.635,
          0.615,0.625,0.583,0.604,0.594,0.615,0.604,0.573,0.583,0.588,
          0.594]
F_K128 = [0.100,0.115,0.105,0.108,0.095,0.105,0.110,0.115,0.105,0.105,
          0.102,0.100,0.102,0.098,0.100,0.092,0.102,0.100,0.102,0.102,
          0.100,0.098,0.102,0.095,0.105,0.090,0.092,0.100,0.102,0.102,
          0.100,0.090,0.102,0.100,0.098,0.095,0.102,0.100,0.102,0.098,
          0.092,0.100,0.100,0.102,0.100,0.102,0.098,0.100,0.102,0.100,
          0.095,0.092,0.100,0.102,0.102,0.102,0.100,0.102,0.100,0.092,
          0.102,0.100,0.102,0.100,0.102,0.100,0.098,0.102,0.100,0.100,
          0.102,0.100,0.100,0.100,0.098,0.100,0.090,0.100,0.102,0.100,
          0.090,0.100,0.105,0.115,0.100,0.095,0.100,0.100,0.102,0.098,
          0.115,0.102,0.100,0.100,0.100,0.100,0.102,0.098,0.090,0.095,
          0.105]

# ---------------------------------------------------------------- style
C_REFC = "#4472C4"; C_ORA = "#ED7D31"; C_GRY = "#A5A5A5"
C_YEL = "#FFC000"; C_LBL = "#5B9BD5"; C_GRN = "#70AD47"; C_DOT = "#203864"
TXT = "#595959"; GRID = "#D9D9D9"

W, H = 1382, 557
fig = plt.figure(figsize=(W / 100, H / 100), dpi=100)


def fxy(px, py):
    return px / W, 1 - py / H


def draw_panel(border, L, T, R101, B, Rarr, ylim, yticks, ylabels, ypad,
               series, title, tc, acc, ep, ep_fs, legend):
    x0, y0, x1, y1 = border
    fig.add_artist(Rectangle(fxy(x0, y1), (x1 - x0) / W, (y1 - y0) / H,
                             transform=fig.transFigure, fill=False,
                             ec=GRID, lw=1.0))
    ax = fig.add_axes([L / W, 1 - B / H, (Rarr - L) / W, (B - T) / H])
    step = (R101 - L) / 100.0
    ax.set_xlim(1, 101 + (Rarr - R101) / step)
    ax.set_ylim(*ylim)
    ax.set_facecolor("none")
    for s in ax.spines.values():
        s.set_visible(False)
    ax.set_yticks(yticks)
    ax.set_yticklabels(ylabels, color=TXT, fontsize=10.5)
    ax.set_xticks(XTICKS)
    ax.set_xticklabels([str(t) for t in XTICKS], rotation=90, color=TXT,
                       fontsize=10)
    ax.tick_params(axis="both", length=0)
    ax.tick_params(axis="y", pad=ypad)
    ax.tick_params(axis="x", pad=5)
    ax.grid(axis="y", color=GRID, lw=1.0)
    ax.set_axisbelow(True)
    for name, vals, col, ls in series:
        xs = np.arange(1, len(vals) + 1)
        ax.plot(xs, vals, color=col, lw=1.4 if ls == "-" else 1.3,
                ls=ls, solid_joinstyle="round", zorder=3)
    # axes arrows
    ap = dict(arrowstyle="-|>", color="black", lw=1.0, mutation_scale=9,
              shrinkA=0, shrinkB=0)
    ax.annotate("", xy=(1.0, 0), xytext=(0, 0), xycoords="axes fraction",
                arrowprops=ap, annotation_clip=False, zorder=5)
    ax.annotate("", xy=(0, 1.012), xytext=(0, 0), xycoords="axes fraction",
                arrowprops=ap, annotation_clip=False, zorder=5)
    # texts
    fig.text(*fxy(*tc), title, ha="center", va="center", color=TXT,
             fontsize=12.4)
    fig.text(*fxy(*acc), "Accuracy", ha="left", va="center",
             color="black", fontsize=9.2)
    fig.text(*fxy(*ep), "epoch", ha="left", va="center", color="black",
             fontsize=ep_fs)
    # legend
    for (lx0, lx1, ly), (name, vals, col, ls) in zip(legend, series):
        xa, ya = fxy(lx0, ly)
        xb, _ = fxy(lx1, ly)
        fig.add_artist(Line2D([xa, xb], [ya, ya], color=col,
                              lw=1.6 if ls == "-" else 1.3, ls=ls,
                              transform=fig.transFigure))
        fig.text(*fxy(lx1 + 2, ly), name, ha="left", va="center",
                 color=TXT, fontsize=9.8)


Y_A = [0.6, 0.7, 0.8, 0.9, 1.0]
Y_AL = ["0.6", "0.7", "0.8", "0.9", "1"]
Y_D = [0.5, 0.6, 0.7, 0.8, 0.9, 1.0]
Y_DL = ["0.5", "0.6", "0.7", "0.8", "0.9", "1"]
Y_F = [0.0, 0.2, 0.4, 0.6, 0.8, 1.0]
Y_FL = ["0", "0.2", "0.4", "0.6", "0.8", "1"]

# (a)
draw_panel((4, 4, 465, 276), 52, 53, 449, 216, 451, (0.6, 1.0), Y_A, Y_AL, 14,
           [("Reference", A_REF, C_REFC, "-"), ("k=64", A_K64, C_ORA, "-"),
            ("k=128", A_K128, C_GRY, "-"), ("k=256", A_K256, C_YEL, "-"),
            ("k=512", A_K512, C_LBL, "-"), ("k=1024", A_K1024, C_GRN, "-")],
           "(a) Forward Propagation - 2 Layers", (235, 25), (23, 33),
           (407, 194), 11,
           [(17, 44, 263), (106, 133, 263), (172, 199, 263),
            (238, 265, 263), (313, 340, 263), (377, 405, 263)])
# (b)
draw_panel((466, 4, 930, 276), 514, 53, 912, 218, 915, (0.6, 1.0), Y_A, Y_AL, 15,
           [("Reference", B_REF, C_REFC, "-"), ("k=64", B_K64, C_ORA, "-"),
            ("k=128", B_K128, C_GRY, "-"), ("k=256", B_K256, C_YEL, "-"),
            ("k=512", B_K512, C_LBL, "-"), ("k=1024", B_K1024, C_GRN, "-"),
            ("Ref. batch 32", B_B32, C_DOT, ":")],
           "(b) BackPropagation - 2 Layers", (699, 26), (490, 27),
           (870, 202), 9.5,
           [(475, 509, 257), (590, 624, 257), (705, 739, 257),
            (820, 853, 257), (475, 509, 270), (590, 624, 270),
            (705, 739, 270)])
# (c)
draw_panel((931, 4, 1361, 276), 969, 53, 1343, 220, 1346, (0.6, 1.0), Y_A, Y_AL, 7,
           [("Reference", C_REF, C_REFC, "-"), ("k=2048", C_K2048, C_ORA, "-"),
            ("k=1024", C_K1024, C_GRY, "-"), ("k=512", C_K512, C_YEL, "-"),
            ("k=256", C_K256, C_LBL, "-"), ("k=128", C_K128, C_GRN, "-")],
           "(c) Forward & Backward - 2 layers", (1146, 25), (948, 32),
           (1302, 210), 9.5,
           [(938, 963, 262), (1022, 1048, 262), (1095, 1122, 262),
            (1168, 1195, 262), (1233, 1260, 262), (1298, 1325, 262)])
# (d)
draw_panel((4, 280, 465, 552), 44, 328, 450, 485, 452, (0.5, 1.0), Y_D, Y_DL, 7,
           [("Ref", D_REF, C_REFC, "-"), ("k=64", D_K64, C_ORA, "-"),
            ("k=128", D_K128, C_GRY, "-"), ("k=256", D_K256, C_YEL, "-"),
            ("k=512", D_K512, C_LBL, "-"), ("k=1024", D_K1024, C_GRN, "-")],
           "(d) Forward Propagation - 3 Layers", (235, 301), (22, 310),
           (407, 475), 9.5,
           [(37, 62, 536), (88, 115, 536), (152, 178, 536),
            (220, 247, 536), (292, 318, 536), (360, 387, 536)])
# (e)
draw_panel((466, 280, 930, 552), 506, 327, 914, 486, 917, (0.5, 1.0), Y_D, Y_DL, 7,
           [("Ref", E_REF, C_REFC, "-"), ("k=64", E_K64, C_ORA, "-"),
            ("k=128", E_K128, C_GRY, "-"), ("k=256", E_K256, C_YEL, "-"),
            ("k=512", E_K512, C_LBL, "-"), ("k=1024", E_K1024, C_GRN, "-"),
            ("Ref B32", E_B32, C_DOT, ":")],
           "(e) BackPropagation - 3 Layers", (699, 301), (485, 307),
           (869, 473), 9.5,
           [(489, 522, 527), (612, 645, 527), (719, 752, 527),
            (827, 860, 527), (489, 522, 546), (612, 645, 546),
            (719, 752, 546)])
# (f)
draw_panel((931, 280, 1361, 552), 965, 328, 1345, 488, 1347, (0.0, 1.0), Y_F, Y_FL, 5,
           [("Ref", F_REF, C_REFC, "-"), ("k=2048", F_K2048, C_ORA, "-"),
            ("k=1024", F_K1024, C_GRY, "-"), ("k=512", F_K512, C_YEL, "-"),
            ("k=256", F_K256, C_LBL, "-"), ("k=128", F_K128, C_GRN, "-")],
           "(f) Forward & Backward - 3 layers", (1146, 301), (945, 310),
           (1302, 481), 9.5,
           [(943, 968, 541), (993, 1020, 541), (1073, 1100, 541),
            (1150, 1177, 541), (1218, 1245, 541), (1292, 1318, 541)])

fig.savefig("out.png", dpi=100, facecolor="white")
